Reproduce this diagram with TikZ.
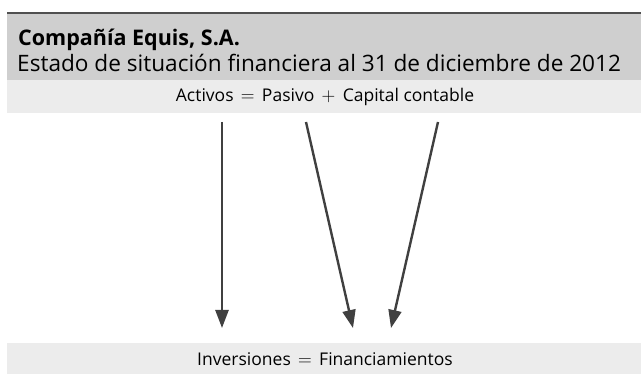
\documentclass[tikz,border=0pt]{standalone}
\usepackage{fontspec}
\setmainfont{Open Sans}
\usetikzlibrary{arrows.meta}
\definecolor{bandDark}{HTML}{CFCFCF}
\definecolor{bandLight}{HTML}{ECECEC}
\definecolor{ruleCol}{HTML}{505050}
\definecolor{arrowCol}{HTML}{404040}
\newcommand{\opsp}[1]{\hspace{0.42em}\scalebox{1.1}{$#1$}\hspace{0.42em}}
\tikzset{
  band/.style={fill=#1, draw=none, inner sep=0pt, anchor=north west},
  eqtext/.style={inner sep=0pt, font=\fontsize{17.5}{20}\selectfont},
  flow/.style={draw=arrowCol, line width=2.4pt, -{Triangle[width=13pt,length=18pt]}},
}
\begin{document}
\begin{tikzpicture}[x=1pt,y=-1pt]
\useasboundingbox (0,0) rectangle (641,374);
% header band
\node[band=bandDark, minimum width=634pt, minimum height=67pt] (header) at (7,13) {};
\draw[ruleCol, line width=2pt] (header.north west) -- (header.north east);
\node[anchor=base west, inner sep=0pt, font=\fontsize{21.5}{24}\selectfont\bfseries] (title) at (18,46) {Compañía Equis, S.A.};
\node[anchor=base west, inner sep=0pt, font=\fontsize{22.6}{26}\selectfont] (subtitle) at (17,72) {Estado de situación financiera al 31 de diciembre de 2012};
% equation bands
\node[band=bandLight, minimum width=634pt, minimum height=33pt] (eqband) at (7,80) {};
\node[eqtext] (eq1) at (325,97) {Activos\opsp{=}Pasivo\opsp{+}Capital contable};
\node[band=bandLight, minimum width=634pt, minimum height=31pt] (botband) at (7,343) {};
\node[eqtext] (eq2) at (325,359) {Inversiones\opsp{=}Financiamientos};
% arrow ends
\coordinate (s1) at (222,122);
\coordinate (s2) at (306,122);
\coordinate (s3) at (438,122);
\coordinate (e1) at (222,328);
\coordinate (e2) at (353,328);
\coordinate (e3) at (391,328);
\draw[flow] (s1) -- (e1);
\draw[flow] (s2) -- (e2);
\draw[flow] (s3) -- (e3);
\end{tikzpicture}
\end{document}
